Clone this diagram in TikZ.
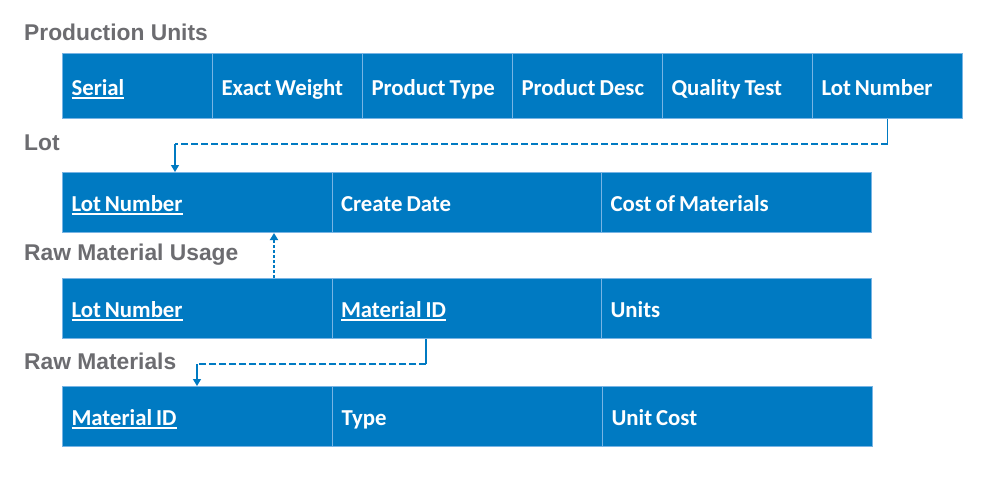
\documentclass[tikz,border=0pt]{standalone}
\usepackage{fontspec}
\setmainfont{Carlito}
\newfontfamily\titlefont{Liberation Sans}
\usetikzlibrary{arrows.meta,calc,positioning}
\definecolor{tblue}{RGB}{0,122,194}
\definecolor{tline}{RGB}{120,180,228}
\definecolor{tgray}{RGB}{108,108,112}
\newcommand{\keyfield}[1]{\setbox0\hbox{#1}\rlap{\rule[-3.8pt]{\wd0}{2pt}}\box0}
\newcommand{\cellspace}{\spaceskip=4pt plus 1pt minus 1pt\relax}
\tikzset{
  tabletitle/.style={anchor=base west,text=tgray,inner sep=0pt,
    font=\titlefont\fontsize{22.8}{27}\selectfont\bfseries},
  cell/.style={anchor=north west,rectangle,fill=tblue,draw=tline,line width=1pt,
    text=white,align=left,inner xsep=9pt,inner ysep=0pt,
    font=\fontsize{22.8}{27}\selectfont\bfseries,
    execute at begin node=\cellspace},
  widecell/.style={cell,text width=251.5pt,minimum height=60pt,text height=19pt,text depth=2pt},
  pucell/.style={cell,text width=132pt,minimum height=65pt,text height=20pt,text depth=1pt},
  link/.style={tblue,line width=1.3pt},
  dashlink/.style={tblue,line width=2.8pt,dash pattern=on 7pt off 3pt},
  dotlink/.style={tblue,line width=2.8pt,dash pattern=on 3pt off 2pt},
  tip/.style={-{Triangle[width=8pt,length=7pt]}}
}

\begin{document}
\begin{tikzpicture}[x=1pt,y=-1pt]
  \useasboundingbox[fill=white] (0,0) rectangle (1003,480);

  % production units
  \node[tabletitle] (t-pu) at (24,40.7) {Production Units};
  \node[pucell] (pu1) at (62,53) {\keyfield{Serial}};
  \node[pucell] (pu2) at (212,53) {Exact Weight};
  \node[pucell] (pu3) at (362,53) {Product Type};
  \node[pucell] (pu4) at (512,53) {Product Desc};
  \node[pucell] (pu5) at (662,53) {Quality Test};
  \node[pucell] (pu6) at (812,53) {Lot Number};

  % lot
  \node[tabletitle] (t-lot) at (24,150) {Lot};
  \node[widecell] (lot1) at (62,172) {\keyfield{Lot Number}};
  \node[widecell] (lot2) at (331.5,172) {Create Date};
  \node[widecell] (lot3) at (601,172) {Cost of Materials};

  % raw material usage
  \node[tabletitle] (t-use) at (24,260) {Raw Material Usage};
  \node[widecell] (use1) at (62,278) {\keyfield{Lot Number}};
  \node[widecell] (use2) at (331.5,278) {\keyfield{Material ID}};
  \node[widecell] (use3) at (601,278) {Units};

  % raw materials
  \node[tabletitle] (t-raw) at (24,369) {Raw Materials};
  \node[widecell] (raw1) at (62,386) {\keyfield{Material ID}};
  \node[widecell] (raw2) at (332,386) {Type};
  \node[widecell] (raw3) at (602,386) {Unit Cost};

  % lot number -> lot
  \coordinate (a1) at ([yshift=-25pt]pu6.south);
  \coordinate (a3) at ($(lot1.north west)+(113,0)$);
  \coordinate (a2) at (a1 -| a3);
  \draw[link] (pu6.south) -- (a1);
  \draw[dashlink] (a1) -- (a2);
  \draw[link,tip] (a2) -- (a3);

  % usage -> lot
  \coordinate (b1) at ($(use1.north west)+(212,0)$);
  \draw[dotlink,tip] (b1) -- (b1 |- lot1.south);

  % material id -> raw materials
  \coordinate (c0) at ($(use2.south west)+(94.5,0)$);
  \coordinate (c1) at ([yshift=-25pt]c0);
  \coordinate (c3) at ($(raw1.north west)+(135,0)$);
  \coordinate (c2) at (c1 -| c3);
  \draw[link] (c0) -- (c1);
  \draw[dashlink] (c1) -- (c2);
  \draw[link,tip] (c2) -- (c3);
\end{tikzpicture}
\end{document}
